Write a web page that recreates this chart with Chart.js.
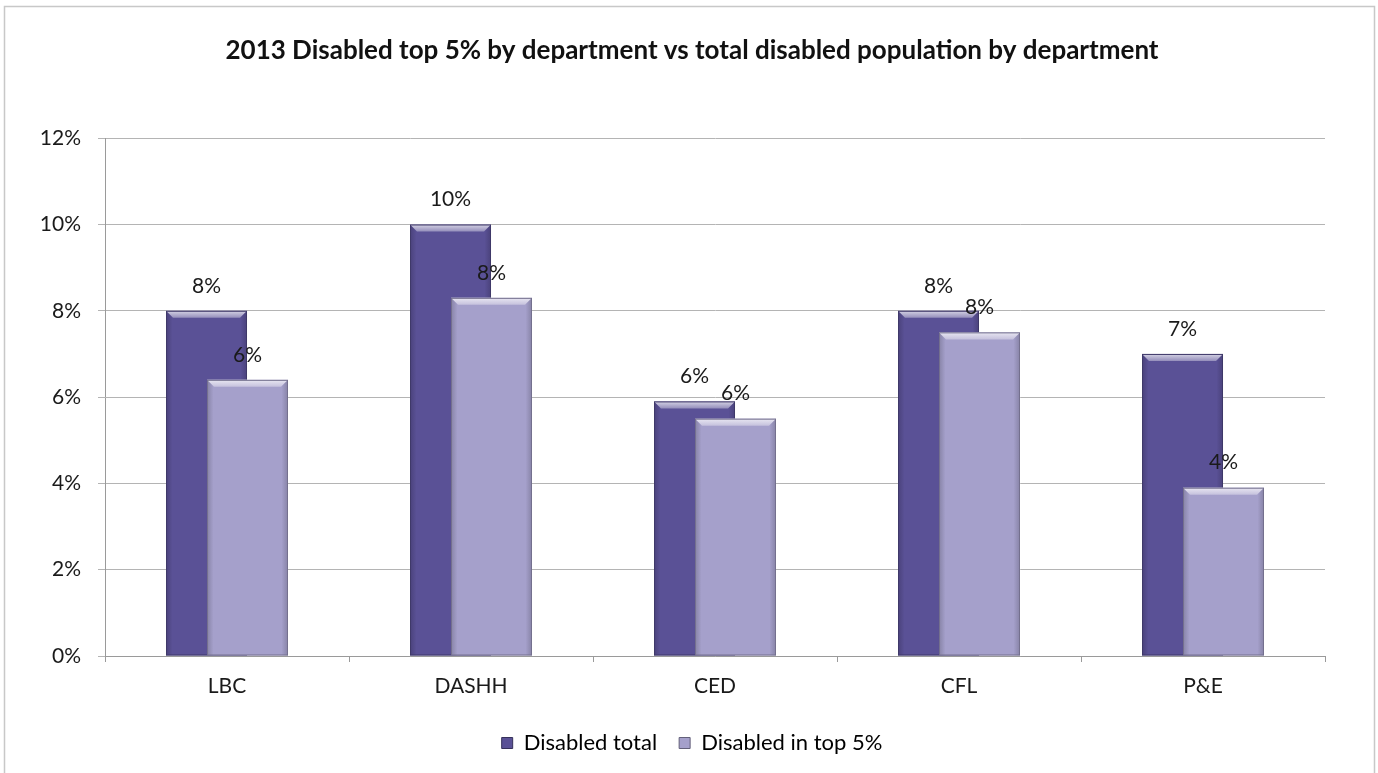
<!DOCTYPE html>
<html>
<head>
<meta charset="utf-8">
<script src="https://cdn.jsdelivr.net/npm/chart.js@4.4.1/dist/chart.umd.min.js"></script>
<style>
  html, body { margin: 0; padding: 0; background: #ffffff; }
  #wrap { width: 1378px; height: 773px; position: relative; }
</style>
</head>
<body>
<div id="wrap"><canvas id="chart" width="1378" height="773"></canvas></div>
<script>
// Departments and the two disabled-staff shares (percent)
const categories = ['LBC', 'DASHH', 'CED', 'CFL', 'P&E'];
const disabledTotal = [8.0, 10.0, 5.9, 8.0, 7.0];
const disabledTop5 = [6.4, 8.3, 5.5, 7.5, 3.9];
const seriesNames = ['Disabled total', 'Disabled in top 5%'];
const yTicks = [0, 2, 4, 6, 8, 10, 12];

const FONT = 'Lato, "Open Sans", sans-serif';
const TEXT = '#1a1a1a';

// Shade a hex colour toward white (amt > 0) or black (amt < 0)
function shade(hex, amt) {
  const n = parseInt(hex.slice(1), 16);
  let r = n >> 16, g = (n >> 8) & 255, b = n & 255;
  const t = amt < 0 ? 0 : 255, p = Math.abs(amt);
  r = Math.round(r + (t - r) * p); g = Math.round(g + (t - g) * p); b = Math.round(b + (t - b) * p);
  return `rgb(${r},${g},${b})`;
}

const baseColors = ['#5a5196', '#a5a0cb'];

// Bevelled bar look: darker sides, light rim along the top
function drawBevel(ctx, bar, color) {
  const x0 = bar.x - bar.width / 2, x1 = bar.x + bar.width / 2;
  const top = bar.y, bottom = bar.base;
  const g = ctx.createLinearGradient(x0, 0, x1, 0);
  g.addColorStop(0, shade(color, -0.18));
  g.addColorStop(0.08, color);
  g.addColorStop(0.92, color);
  g.addColorStop(1, shade(color, -0.18));
  ctx.fillStyle = g;
  ctx.fillRect(x0, top, x1 - x0, bottom - top);
  // top rim
  const rim = 7;
  ctx.beginPath();
  ctx.moveTo(x0, top);
  ctx.lineTo(x1, top);
  ctx.lineTo(x1 - rim, top + rim);
  ctx.lineTo(x0 + rim, top + rim);
  ctx.closePath();
  const rg = ctx.createLinearGradient(0, top, 0, top + rim);
  rg.addColorStop(0, shade(color, 0.75));
  rg.addColorStop(1, shade(color, 0.35));
  ctx.fillStyle = rg;
  ctx.fill();
  ctx.strokeStyle = shade(color, -0.3);
  ctx.lineWidth = 1;
  ctx.strokeRect(x0 + 0.5, top + 0.5, x1 - x0 - 1, bottom - top - 1);
}

const barStyle = {
  id: 'barStyle',
  beforeDatasetsDraw(chart) {
    const ctx = chart.ctx;
    ctx.save();
    // left-hand series first so the second series overlaps it
    [0, 1].forEach(di => {
      const meta = chart.getDatasetMeta(di);
      meta.data.forEach(bar => drawBevel(ctx, bar, baseColors[di]));
    });
    // value labels above each bar
    ctx.font = `21px ${FONT}`;
    ctx.fillStyle = TEXT;
    ctx.textAlign = 'center';
    ctx.textBaseline = 'middle';
    [0, 1].forEach(di => {
      const meta = chart.getDatasetMeta(di);
      const vals = chart.data.datasets[di].data;
      meta.data.forEach((bar, i) => {
        ctx.fillText(Math.round(vals[i]) + '%', bar.x, bar.y - 25);
      });
    });
    ctx.restore();
    return false;
  }
};

const frame = {
  id: 'frame',
  beforeDraw(chart) {
    const ctx = chart.ctx;
    ctx.save();
    ctx.fillStyle = '#ffffff';
    ctx.fillRect(0, 0, chart.width, chart.height);
    ctx.strokeStyle = '#c8c8c8';
    ctx.lineWidth = 1.5;
    ctx.beginPath();
    ctx.moveTo(4.5, 773);
    ctx.lineTo(4.5, 6.5);
    ctx.lineTo(1374.5, 6.5);
    ctx.lineTo(1374.5, 773);
    ctx.stroke();
    ctx.restore();
  }
};

new Chart(document.getElementById('chart'), {
  type: 'bar',
  data: {
    labels: categories,
    datasets: [
      { label: seriesNames[0], data: disabledTotal, backgroundColor: baseColors[0], borderWidth: 0,
        categoryPercentage: 0.336, barPercentage: 1.976 },
      { label: seriesNames[1], data: disabledTop5, backgroundColor: baseColors[1], borderWidth: 0,
        categoryPercentage: 0.336, barPercentage: 1.976 }
    ]
  },
  options: {
    responsive: false,
    animation: false,
    layout: { padding: { left: 6, right: 0, top: 0, bottom: 9 } },
    plugins: {
      title: {
        display: true,
        text: '2013 Disabled top 5% by department vs total disabled population by department',
        color: '#111111',
        font: { family: FONT, size: 26, weight: 'bold' },
        padding: { top: 35, bottom: 72 }
      },
      legend: {
        position: 'bottom',
        labels: {
          color: TEXT,
          font: { family: FONT, size: 22 },
          boxWidth: 11,
          boxHeight: 11,
          padding: 22,
          generateLabels(chart) {
            return chart.data.datasets.map((ds, i) => ({
              text: ds.label,
              fillStyle: baseColors[i],
              strokeStyle: shade(baseColors[i], -0.4),
              lineWidth: 1,
              datasetIndex: i
            }));
          }
        }
      },
      tooltip: { enabled: false }
    },
    scales: {
      x: {
        grid: { display: true, drawOnChartArea: false, drawTicks: true, tickLength: 6, color: '#9a9a9a', offset: true },
        border: { display: true, color: '#9a9a9a' },
        ticks: { color: TEXT, font: { family: FONT, size: 21 }, padding: 12 },
        afterFit(scale) { scale.height = 54; }
      },
      y: {
        min: 0,
        max: 12,
        afterBuildTicks(scale) { scale.ticks = yTicks.map(v => ({ value: v })); },
        grid: { color: '#b4b4b4', tickLength: 7, lineWidth: 1 },
        border: { display: true, color: '#9a9a9a' },
        ticks: { color: TEXT, font: { family: FONT, size: 21 }, padding: 17,
                 callback: v => v + '%' },
        afterFit(scale) { scale.width = 99; }
      },
      // empty right-hand margin beside the plot
      yRight: {
        position: 'right',
        min: 0,
        max: 12,
        grid: { display: false },
        border: { display: false },
        ticks: { display: false },
        afterFit(scale) { scale.width = 53; }
      }
    }
  },
  plugins: [frame, barStyle]
});
</script>
</body>
</html>
